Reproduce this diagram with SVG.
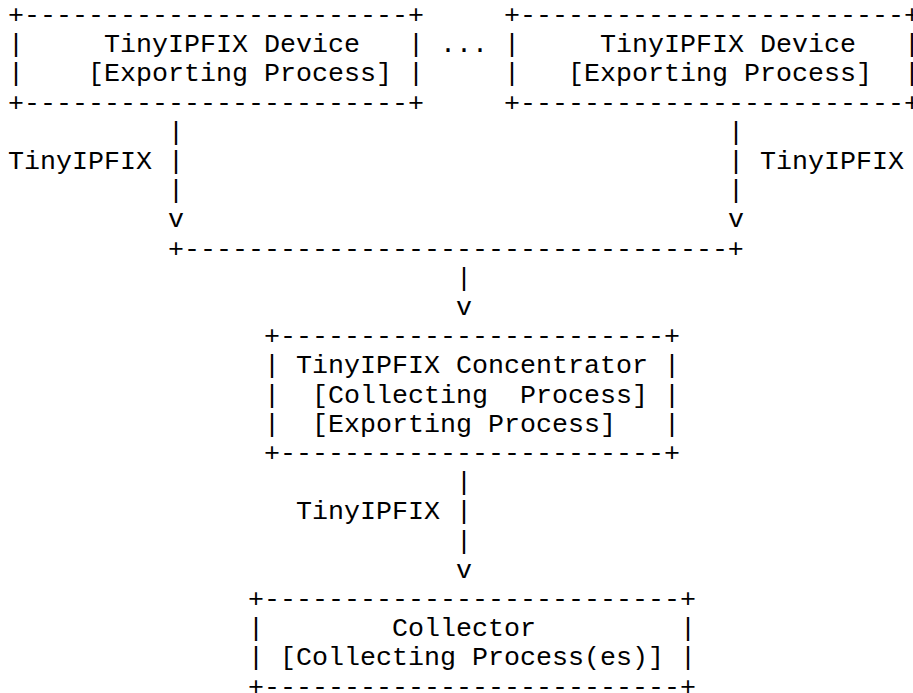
<svg xmlns="http://www.w3.org/2000/svg" width="913" height="693" viewBox="0 0 913 693" xml:space="preserve">
<style>
text { font-family: "Liberation Mono", "Courier New", monospace; font-size: 26.667px; fill: #000; white-space: pre; }
</style>
<rect width="913" height="693" fill="#fff"/>
<g id="device1">
<text x="8" y="23">+------------------------+</text>
<text x="8" y="52.2">|</text><text x="104" y="52.2">TinyIPFIX Device</text><text x="408" y="52.2">|</text>
<text x="8" y="81.4">|</text><text x="88" y="81.4">[Exporting Process]</text><text x="408" y="81.4">|</text>
<text x="8" y="110.6">+------------------------+</text>
</g>
<g id="ellipsis"><text x="440" y="52.2">...</text></g>
<g id="device2">
<text x="504" y="23">+------------------------+</text>
<text x="504" y="52.2">|</text><text x="600" y="52.2">TinyIPFIX Device</text><text x="904" y="52.2">|</text>
<text x="504" y="81.4">|</text><text x="568" y="81.4">[Exporting Process]</text><text x="904" y="81.4">|</text>
<text x="504" y="110.6">+------------------------+</text>
</g>
<g id="connectors">
<text x="168" y="139.8">|</text><text x="728" y="139.8">|</text>
<text x="8" y="169">TinyIPFIX</text><text x="168" y="169">|</text><text x="728" y="169">|</text><text x="760" y="169">TinyIPFIX</text>
<text x="168" y="198.2">|</text><text x="728" y="198.2">|</text>
<text x="168" y="227.4">v</text><text x="728" y="227.4">v</text>
<text x="168" y="256.6">+----------------------------------+</text>
<text x="456" y="285.8">|</text>
<text x="456" y="315">v</text>
<text x="456" y="490.2">|</text>
<text x="296" y="519.4">TinyIPFIX</text><text x="456" y="519.4">|</text>
<text x="456" y="548.6">|</text>
<text x="456" y="577.8">v</text>
</g>
<g id="concentrator">
<text x="264" y="344.2">+------------------------+</text>
<text x="264" y="373.4">|</text><text x="296" y="373.4">TinyIPFIX Concentrator</text><text x="664" y="373.4">|</text>
<text x="264" y="402.6">|</text><text x="312" y="402.6">[Collecting  Process]</text><text x="664" y="402.6">|</text>
<text x="264" y="431.8">|</text><text x="312" y="431.8">[Exporting Process]</text><text x="664" y="431.8">|</text>
<text x="264" y="461">+------------------------+</text>
</g>
<g id="collector">
<text x="248" y="607">+--------------------------+</text>
<text x="248" y="636.2">|</text><text x="392" y="636.2">Collector</text><text x="680" y="636.2">|</text>
<text x="248" y="665.4">|</text><text x="280" y="665.4">[Collecting Process(es)]</text><text x="680" y="665.4">|</text>
<text x="248" y="694.6">+--------------------------+</text>
</g>
</svg>
